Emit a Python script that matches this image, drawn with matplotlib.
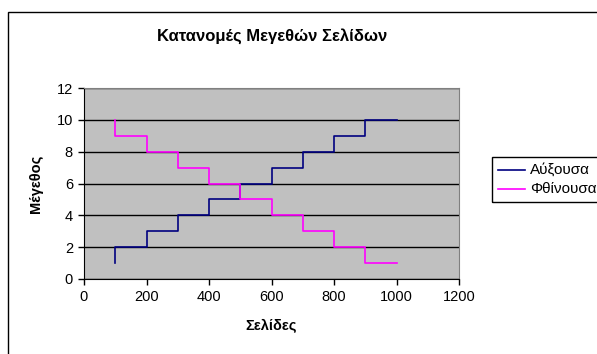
import matplotlib
matplotlib.use("Agg")
import matplotlib.pyplot as plt
from matplotlib.patches import Rectangle
from matplotlib.lines import Line2D

plt.rcParams["font.family"] = ["Liberation Sans", "DejaVu Sans"]

# page counts (x) and sizes (y) of the two step series
pages = [100, 100, 200, 200, 300, 300, 400, 400, 500, 500,
         600, 600, 700, 700, 800, 800, 900, 900, 1000]
size_up = [1, 2, 2, 3, 3, 4, 4, 5, 5, 6, 6, 7, 7, 8, 8, 9, 9, 10, 10]
size_down = [10, 9, 9, 8, 8, 7, 7, 6, 6, 5, 5, 4, 4, 3, 3, 2, 2, 1, 1]

series_names = ["Αύξουσα", "Φθίνουσα"]
title = "Κατανομές Μεγεθών Σελίδων"
x_label = "Σελίδες"
y_label = "Μέγεθος"
x_ticks = [0, 200, 400, 600, 800, 1000, 1200]
y_ticks = [0, 2, 4, 6, 8, 10, 12]

W, H = 597, 354
fig = plt.figure(figsize=(W / 100, H / 100), dpi=100)
fig.patch.set_facecolor("white")

# chart frame, runs off the right and bottom edges
fig.patches.append(Rectangle((8 / W, -0.1), 1.2, 1 - 12 / H + 0.1,
                             transform=fig.transFigure, fill=False,
                             edgecolor="black", linewidth=1.0))

ax = fig.add_axes([84 / W, 1 - 279 / H, (459 - 84) / W, (279 - 88) / H])
ax.set_facecolor("#C0C0C0")
ax.plot(pages, size_up, color="#000080", linewidth=1.2)
ax.plot(pages, size_down, color="#FF00FF", linewidth=1.2)

ax.set_xlim(0, 1200)
ax.set_ylim(0, 12)
ax.set_xticks(x_ticks)
ax.set_yticks(y_ticks)
ax.yaxis.grid(True, color="black", linewidth=1.0)
ax.set_axisbelow(True)
ax.tick_params(direction="out", length=4, width=1, labelsize=10.5, pad=4)

for side in ["top", "right"]:
    ax.spines[side].set_color("#808080")
for side in ["left", "bottom"]:
    ax.spines[side].set_color("black")

ax.set_xlabel(x_label, fontsize=10.5, fontweight="bold", labelpad=11)
ax.set_ylabel(y_label, fontsize=10.5, fontweight="bold", labelpad=10)
fig.text(272 / W, 1 - 36 / H, title, fontsize=12, fontweight="bold",
         ha="center", va="center")

# legend box on the right
fig.patches.append(Rectangle((492 / W, 1 - 202 / H), 0.3, 45 / H,
                             transform=fig.transFigure, fill=False,
                             edgecolor="black", linewidth=1.0))
for i, (name, col) in enumerate(zip(series_names, ["#000080", "#FF00FF"])):
    yy = 1 - (170 + 19 * i) / H
    fig.lines.append(Line2D([498 / W, 525 / W], [yy, yy],
                            transform=fig.transFigure, color=col, linewidth=1.2))
    fig.text(530 / W, yy, name, fontsize=11, ha="left", va="center")

fig.savefig("out.png", dpi=100)
